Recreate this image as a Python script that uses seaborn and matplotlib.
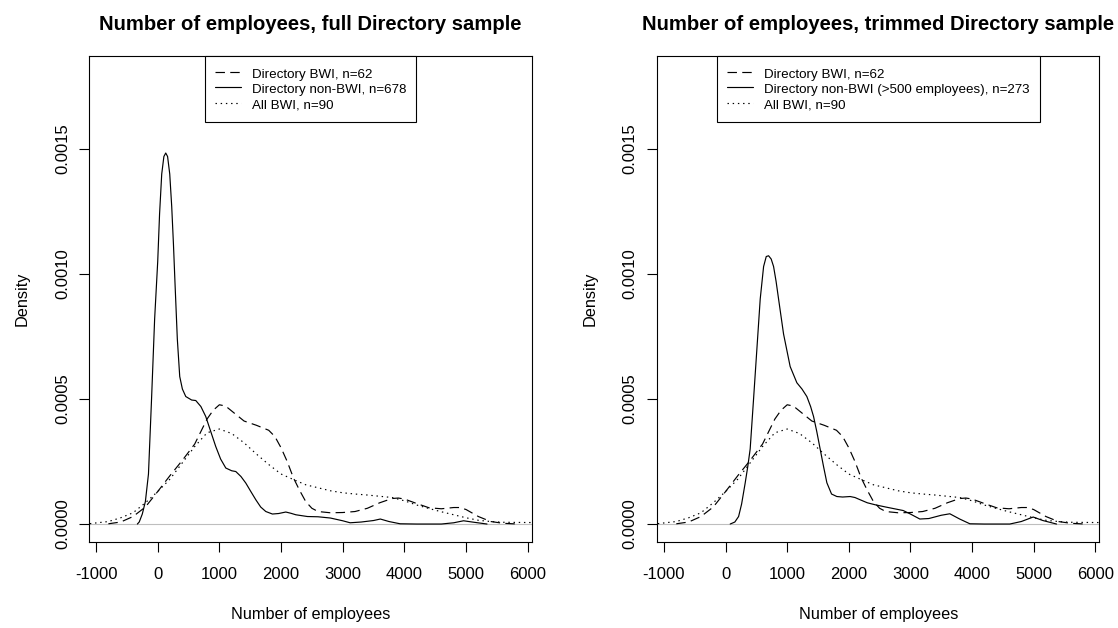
import numpy as np
import pandas as pd
import seaborn as sns
import matplotlib
matplotlib.use("Agg")
import matplotlib.pyplot as plt

# density curves (employees, density)
bwi_dir_x = [-800, -600, -400, -200, 0, 200, 400, 600, 800, 900, 1000, 1100, 1200, 1400,
             1600, 1800, 1900, 2000, 2100, 2200, 2300, 2400, 2500, 2600, 2800, 3000, 3200,
             3400, 3600, 3800, 3900, 4000, 4200, 4400, 4600, 4800, 4900, 5000, 5200, 5400,
             5600, 5800]
bwi_dir_y = [0.000001, 0.000008, 0.00003, 0.000068, 0.00013, 0.000194, 0.000255, 0.00032,
             0.00042, 0.000455, 0.000477, 0.000472, 0.000452, 0.000412, 0.000395, 0.000375,
             0.00035, 0.000305, 0.00025, 0.000185, 0.000135, 0.00009, 0.000063, 0.00005,
             0.000045, 0.000046, 0.00005, 0.000063, 0.000085, 0.000102, 0.000104, 0.0001,
             0.000082, 0.000065, 0.000061, 0.000066, 0.000066, 0.000058, 0.00003, 0.00001,
             0.000003, 0.0000005]

bwi_all_x = [-1100, -800, -600, -400, -200, 0, 200, 400, 600, 800, 1000, 1200, 1400, 1600,
             1800, 2000, 2200, 2400, 2600, 2800, 3000, 3200, 3400, 3600, 3800, 4000, 4200,
             4400, 4600, 4800, 5000, 5200, 5400, 5600, 5800, 6000, 6060]
bwi_all_y = [0.0000015, 0.00001, 0.000025, 0.000045, 0.000085, 0.00013, 0.00018, 0.000245,
             0.00031, 0.000365, 0.00038, 0.000362, 0.000325, 0.00028, 0.000238, 0.0002,
             0.000178, 0.000157, 0.000145, 0.000133, 0.000125, 0.00012, 0.000116, 0.000111,
             0.000106, 0.000093, 0.000076, 0.000062, 0.000049, 0.000037, 0.000025, 0.000015,
             0.00001, 0.000007, 0.0000065, 0.000006, 0.000006]

full_x = [-330, -300, -250, -200, -150, -100, -50, 0, 30, 65, 100, 130, 160, 195, 227, 255,
          281, 318, 357, 400, 455, 550, 617, 700, 779, 860, 941, 1020, 1104, 1200, 1266, 1350,
          1428, 1510, 1591, 1670, 1753, 1860, 1960, 2077, 2160, 2240, 2428, 2600, 2800, 3000,
          3120, 3300, 3500, 3610, 3750, 3930, 4200, 4600, 4800, 4960, 5100, 5340]
full_y = [0.0, 0.000008, 0.00004, 0.00009, 0.0002, 0.0005, 0.00082, 0.00105, 0.00124, 0.0014,
          0.00147, 0.001484, 0.00147, 0.0014, 0.00127, 0.00112, 0.00096, 0.00074, 0.00059,
          0.00054, 0.00051, 0.000496, 0.000494, 0.00047, 0.00043, 0.00037, 0.00031, 0.00026,
          0.000224, 0.000213, 0.00021, 0.00019, 0.000164, 0.00013, 0.000097, 0.000068, 0.00005,
          0.00004, 0.000042, 0.000048, 0.000043, 0.000037, 0.00003, 0.000029, 0.000024,
          0.000013, 0.000005, 0.000008, 0.000014, 0.00002, 0.00001, 0.000001, 0.0, 0.0,
          0.000005, 0.000013, 0.000008, 0.0]

trim_x = [75, 150, 211, 260, 318, 360, 399, 454, 508, 562, 617, 660, 698, 740, 779, 820, 860,
          941, 1048, 1157, 1240, 1319, 1380, 1428, 1480, 1535, 1590, 1644, 1720, 1806, 1900,
          2022, 2100, 2185, 2300, 2428, 2600, 2883, 3000, 3153, 3300, 3500, 3640, 3800, 3965,
          4200, 4614, 4800, 4993, 5150, 5372]
trim_y = [0.0, 0.000008, 0.00003, 0.00008, 0.000164, 0.00023, 0.0003, 0.0005, 0.0007, 0.0009,
          0.00103, 0.00107, 0.001073, 0.00106, 0.00103, 0.00097, 0.0009, 0.00076, 0.00063,
          0.000565, 0.00054, 0.00051, 0.00047, 0.00043, 0.00037, 0.0003, 0.00023, 0.000165,
          0.00012, 0.00011, 0.000108, 0.00011, 0.000106, 0.000097, 0.000085, 0.000077,
          0.000068, 0.000054, 0.00004, 0.00002, 0.000022, 0.000035, 0.000041, 0.00002,
          0.000001, 0.0, 0.0, 0.00001, 0.000028, 0.000014, 0.0]

titles = ["Number of employees, full Directory sample",
          "Number of employees, trimmed Directory sample"]
nonbwi_labels = ["Directory non-BWI, n=678",
                 "Directory non-BWI (>500 employees), n=273"]
xticks = [-1000, 0, 1000, 2000, 3000, 4000, 5000, 6000]
yticks = [0.0, 0.0005, 0.0010, 0.0015]
ytick_labels = ["0.0000", "0.0005", "0.0010", "0.0015"]

sns.set_style("white")
plt.rcParams["font.family"] = ["Liberation Sans", "DejaVu Sans"]
plt.rcParams["text.color"] = "black"
plt.rcParams["axes.labelcolor"] = "black"
plt.rcParams["xtick.color"] = "black"
plt.rcParams["ytick.color"] = "black"

fig = plt.figure(figsize=(11.18, 6.28), dpi=100)
axes = [fig.add_axes([0.0799, 0.1369, 0.3957, 0.7739]),
        fig.add_axes([0.5879, 0.1369, 0.3953, 0.7739])]

dashed = (0, (8, 4.5))
dotted = (0, (1.2, 3.2))

for i, ax in enumerate(axes):
    ax.axhline(0, color="#bebebe", lw=0.8, zorder=1)
    sns.lineplot(x=bwi_dir_x, y=bwi_dir_y, ax=ax, color="black", lw=0.85,
                 linestyle=dashed, label="Directory BWI, n=62", estimator=None)
    nx, ny = (full_x, full_y) if i == 0 else (trim_x, trim_y)
    sns.lineplot(x=nx, y=ny, ax=ax, color="black", lw=0.85,
                 label=nonbwi_labels[i], estimator=None)
    sns.lineplot(x=bwi_all_x, y=bwi_all_y, ax=ax, color="black", lw=0.85,
                 linestyle=dotted, label="All BWI, n=90", estimator=None)

    ax.set_xlim(-1109, 6065)
    ax.set_ylim(-0.000072, 0.001872)
    ax.set_xticks(xticks)
    ax.set_xticklabels([str(t) for t in xticks])
    ax.set_yticks(yticks)
    ax.set_yticklabels(ytick_labels, rotation=90, va="center")
    ax.tick_params(axis="both", direction="out", length=7, width=0.8,
                   color="black", labelsize=12, bottom=True, left=True)
    ax.tick_params(axis="x", pad=11)
    ax.tick_params(axis="y", pad=7)
    for s in ax.spines.values():
        s.set_color("black")
        s.set_linewidth(0.8)
    ax.set_xlabel("Number of employees", fontsize=11.7, labelpad=18)
    ax.set_ylabel("Density", fontsize=11.7, labelpad=18)
    ax.set_title(titles[i], fontsize=14.6, fontweight="bold", pad=19)

    leg = ax.legend(loc="upper center", borderaxespad=0, fontsize=9.6,
                    handlelength=1.95, handletextpad=0.85, labelspacing=0.08,
                    handleheight=1.25, borderpad=0.75, fancybox=False, framealpha=1)
    leg.get_frame().set_edgecolor("black")
    leg.get_frame().set_linewidth(0.8)

fig.savefig("out.png", dpi=100)
